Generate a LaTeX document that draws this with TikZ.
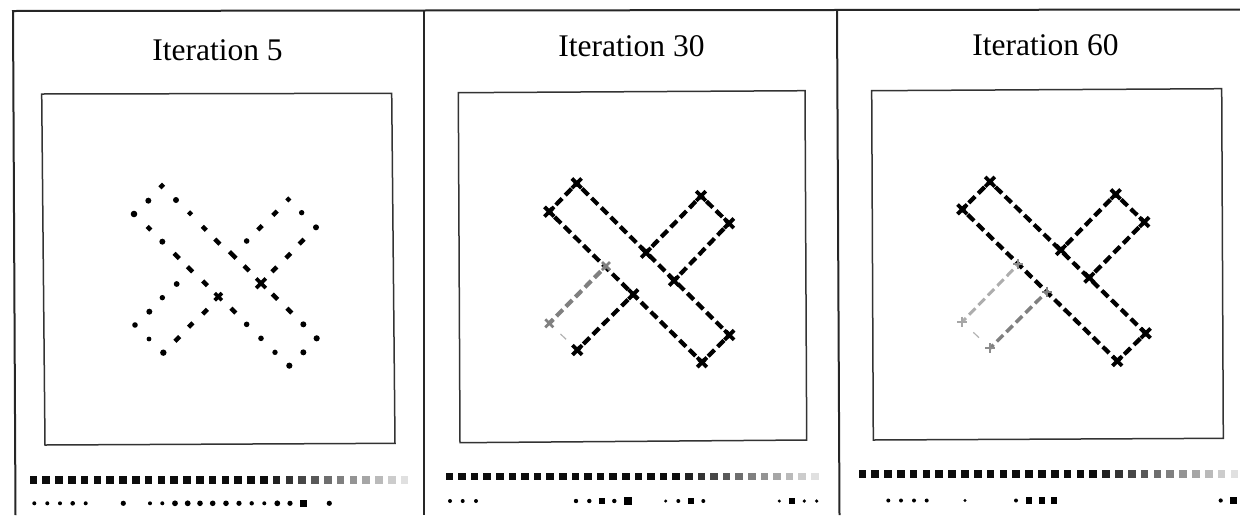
\documentclass[tikz,border=0pt]{standalone}
\usepackage{fontspec}
\setmainfont{Liberation Serif}
\usetikzlibrary{calc}
\begin{document}
\begin{tikzpicture}[x=1pt,y=-1pt,
  frame/.style={line width=2pt, draw=black!85},
  box/.style={line width=1.5pt, draw=black!80},
  title/.style={font=\fontsize{31.5}{38}\selectfont, anchor=base, inner sep=0pt},
  bar/.style={line width=4.2pt, dash pattern=on 9pt off 4.5pt, dash phase=6pt},
  graybar/.style={bar, draw=black!50},
  lightbar/.style={bar, line width=3pt, draw=black!32},
  faint/.style={line width=1.2pt, draw=black!30},
  xmark/.style={line width=3.8pt},
  pmark/.style={line width=2.2pt},
  pdash/.style={line width=4.4pt},
]
\useasboundingbox (0,0) rectangle (1240,515);

% outer frame
\draw[frame] (15.5,515) -- (13,11) -- (1240,9.5);
\draw[frame] (424,10.5) -- (424,515);
\draw[frame] (837,10) -- (839.5,515);

% titles
\node[title] (t1) at (217.5,60) {Iteration 5};
\node[title] (t2) at (631.5,56.5) {Iteration 30};
\node[title] (t3) at (1045.5,55) {Iteration 60};

% inner boxes
\draw[box] (41.7,94) -- (391.7,93.3) -- (395,443.3) -- (45,445) -- cycle;
\draw[box] (458.3,92.7) -- (805,90.7) -- (806.7,440) -- (460,442.7) -- cycle;
\draw[box] (871.7,90.7) -- (1221.7,88.7) -- (1223.3,438.3) -- (873.3,440) -- cycle;

% ---------- panel 1 (dotted) ----------
\foreach \x/\y/\r in {228/120/3, 102/162/3.3, 145/122/3, 187/245/3, 610/493/3, 650/535/3.1,
  440/493/2.8, 483/535/2.8, 525/577/2.7, 568/617/3.1, 610/577/3, 605/158/2.7, 648/202/3,
  440/243/2.8, 190/578/3.2, 230/372/2.9, 187/413/2.7, 148/455/3, 105/495/2.8, 147/537/2.4}
  \fill ({100+\x/3},{160+\y/3}) circle[radius=\r pt];
\foreach \x/\y/\l in {313/205/2, 352/245/2.6, 398/285/3.3, 440/325/2.6, 230/288/2.6,
  270/328/2.6, 315/370/2.4, 400/452/2.4, 525/410/2.7, 568/452/2.4, 270/160/1.5, 147/205/1.8}
  \draw[pdash] ({100+\x/3-\l},{160+\y/3-\l}) -- ({100+\x/3+\l},{160+\y/3+\l});
\foreach \x/\y/\l in {185/78/1.8, 565/118/1.5, 525/160/2.2, 480/203/2.2, 605/245/2.4,
  565/287/2.4, 523/328/2.4, 315/455/2.4, 272/495/2.2, 232/537/2.4}
  \draw[pdash] ({100+\x/3-\l},{160+\y/3+\l}) -- ({100+\x/3+\l},{160+\y/3-\l});
\coordinate (p1c1) at (261,283.3);
\coordinate (p1c2) at (218.3,296.7);
\draw[xmark] (p1c1) +(-4.8,-4.8) -- +(4.8,4.8) +(-4.8,4.8) -- +(4.8,-4.8);
\draw[xmark, line width=3.6pt] (p1c2) +(-3.6,-3.6) -- +(3.6,3.6) +(-3.6,3.6) -- +(3.6,-3.6);

% ---------- panel 2 ----------
\coordinate (bTLa) at (576.7,183.3);
\coordinate (bTLb) at (549.3,211.7);
\coordinate (bBRa) at (729.3,335);
\coordinate (bBRb) at (702,362.3);
\coordinate (bTRa) at (701,196);
\coordinate (bTRb) at (729,223.3);
\coordinate (bCa) at (646,252.7);
\coordinate (bCb) at (674,280.7);
\coordinate (bCc) at (633.3,294.3);
\coordinate (bG) at (606,266);
\coordinate (bBLa) at (549.3,323.3);
\coordinate (bBLb) at (577.3,350);
\draw[bar] (bTLa) -- (bTLb);
\draw[bar] (bTLa) -- (bBRa);
\draw[bar] (bTLb) -- (bBRb);
\draw[bar] (bBRa) -- (bBRb);
\draw[bar] (bTRa) -- (bTRb);
\draw[bar] (bTRa) -- (bCa);
\draw[bar] (bTRb) -- (bCb);
\draw[bar] (bCc) -- (bBLb);
\draw[graybar] (bG) -- (bBLa);
\draw[faint] ($(bBLa)!0.4!(bBLb)$) -- ($(bBLa)!0.6!(bBLb)$);
\foreach \c in {bTLa,bTLb,bBRa,bBRb,bTRa,bTRb,bCa,bCb,bCc,bBLb}
  \draw[xmark] (\c) +(-4.8,-4.8) -- +(4.8,4.8) +(-4.8,4.8) -- +(4.8,-4.8);
\foreach \c in {bG,bBLa}
  \draw[xmark, draw=black!50, line width=2.8pt] (\c) +(-4,-4) -- +(4,4) +(-4,4) -- +(4,-4);

% ---------- panel 3 ----------
\coordinate (cTLa) at (990,181.7);
\coordinate (cTLb) at (962.3,209.3);
\coordinate (cBRa) at (1145.7,333.3);
\coordinate (cBRb) at (1117.3,361);
\coordinate (cTRa) at (1115.7,194.3);
\coordinate (cTRb) at (1144.3,222);
\coordinate (cCa) at (1061,250);
\coordinate (cCb) at (1089.3,277.7);
\coordinate (cGa) at (1018.3,264.3);
\coordinate (cGb) at (1046.7,291.7);
\coordinate (cBLa) at (962.3,321.7);
\coordinate (cBLb) at (990,348.3);
\draw[bar] (cTLa) -- (cTLb);
\draw[bar] (cTLa) -- (cBRa);
\draw[bar] (cTLb) -- (cBRb);
\draw[bar] (cBRa) -- (cBRb);
\draw[bar] (cTRa) -- (cTRb);
\draw[bar] (cTRa) -- (cCa);
\draw[bar] (cTRb) -- (cCb);
\draw[lightbar] (cGa) -- (cBLa);
\draw[graybar, line width=3.4pt] (cGb) -- (cBLb);
\draw[faint] ($(cBLa)!0.4!(cBLb)$) -- ($(cBLa)!0.6!(cBLb)$);
\foreach \c in {cTLa,cTLb,cBRa,cBRb,cTRa,cTRb,cCa,cCb}
  \draw[xmark] (\c) +(-4.8,-4.8) -- +(4.8,4.8) +(-4.8,4.8) -- +(4.8,-4.8);
\foreach \c/\g in {cGa/45,cGb/50,cBLa/35,cBLb/45}
  \draw[pmark, draw=black!\g] (\c) +(-5,0) -- +(5,0) +(0,-5) -- +(0,5);

% ---------- bottom rows ----------
\foreach \xs/\dx/\ys in {33.3/12.8/480, 449.3/12.6/476.5, 862.3/12.83/474}
  \foreach \i in {0,...,29} {
    \pgfmathtruncatemacro{\p}{\i<19 ? 95 : max(12,95-(\i-18)*7.5)}
    \fill[black!\p] ({\xs+\dx*\i-3.8},{\ys-3.8}) rectangle +(7.6,7.6);
  }
% panel 1 second row
\foreach \x/\r in {34.3/2, 47.3/2, 60/2, 72.7/2.3, 85.7/2, 123.3/2.6, 150/2, 162.3/2,
  175/2.9, 187.7/2.9, 200/2.8, 212.7/2.8, 226/2.8, 239/2.6, 251.7/2.2, 264.3/2, 277.3/2.9,
  290/2.6, 329.3/2.6}
  \fill (\x,503.3) circle[radius=\r pt];
\fill (303.3-3.4,503.3-3.4) rectangle +(6.8,6.8);
% panel 2 second row
\foreach \x/\r in {450/2, 462.7/2, 476/2, 576/2.2, 589.3/2.2, 614.3/2.2, 665.7/1.7,
  678.3/2, 703.3/2, 779.3/1.7, 804.3/1.8, 816.7/1.8}
  \fill (\x,501) circle[radius=\r pt];
\foreach \x/\h in {601.7/3.2, 627.7/3.8, 691/3.3, 791.7/2.8}
  \fill ({\x-\h},{501-\h}) rectangle +({2*\h},{2*\h});
% panel 3 second row
\foreach \x/\r in {888.3/2, 901/2, 914/2, 926.7/2, 965/1.7, 1016/2, 1220.7/2.1}
  \fill (\x,500.5) circle[radius=\r pt];
\foreach \x/\h in {1029/3.1, 1041.7/3.1, 1054.3/3.1, 1233.3/3.2}
  \fill ({\x-\h},{500.5-\h}) rectangle +({2*\h},{2*\h});
\end{tikzpicture}
\end{document}
